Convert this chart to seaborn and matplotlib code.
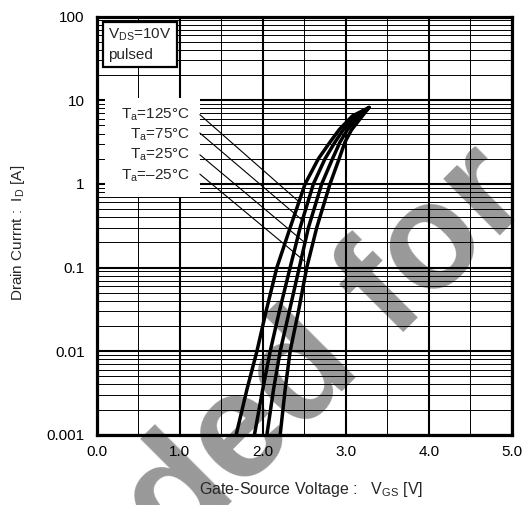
import numpy as np
import pandas as pd
import matplotlib
matplotlib.use("Agg")
import matplotlib.pyplot as plt
import seaborn as sns
from matplotlib.patches import Rectangle
from matplotlib.ticker import FixedLocator, MultipleLocator, LogLocator, NullFormatter

# drain current levels [A] and the gate voltage read for each curve at that level
id_levels = [0.001, 0.0035, 0.01, 0.03, 0.1, 0.3, 1.0, 2.0, 3.16, 4.45, 6.5, 8.2]
vgs_125 = [1.68, 1.81, 1.93, 2.04, 2.17, 2.33, 2.51, 2.67, 2.81, 2.92, 3.08, 3.28]
vgs_75 = [1.90, 2.00, 2.09, 2.20, 2.33, 2.45, 2.61, 2.75, 2.87, 2.97, 3.12, 3.28]
vgs_25 = [2.05, 2.13, 2.21, 2.32, 2.44, 2.55, 2.71, 2.84, 2.93, 3.02, 3.16, 3.28]
vgs_m25 = [2.21, 2.27, 2.33, 2.43, 2.53, 2.65, 2.81, 2.92, 2.99, 3.07, 3.20, 3.28]

temp_labels = ["T$_{\\rm a}$=125°C", "T$_{\\rm a}$=75°C", "T$_{\\rm a}$=25°C", "T$_{\\rm a}$=–25°C"]
label_y = [6.73, 3.88, 2.23, 1.25]
leader_start_y = [6.73, 4.06, 2.23, 1.31]
leader_end_x = [2.43, 2.47, 2.49, 2.51]
leader_end_y = [0.62, 0.373, 0.205, 0.118]

x_ticks = [0, 1, 2, 3, 4, 5]
x_tick_labels = ["0.0", "1.0", "2.0", "3.0", "4.0", "5.0"]
y_ticks = [0.001, 0.01, 0.1, 1, 10, 100]
y_tick_labels = ["0.001", "0.01", "0.1", "1", "10", "100"]

sns.set_style("white")
plt.rcParams["font.family"] = ["Liberation Sans", "DejaVu Sans"]
plt.rcParams["mathtext.fontset"] = "custom"
plt.rcParams["mathtext.rm"] = "Liberation Sans"
plt.rcParams["mathtext.it"] = "Liberation Sans:italic"
plt.rcParams["mathtext.bf"] = "Liberation Sans:bold"

df = pd.concat([
    pd.DataFrame({"vgs": v, "id": id_levels, "temp": t})
    for v, t in zip([vgs_125, vgs_75, vgs_25, vgs_m25], ["125", "75", "25", "-25"])
])

fig = plt.figure(figsize=(5.31, 5.05), dpi=100)
fig.patch.set_facecolor("white")
ax = fig.add_axes([0.182, 0.139, 0.782, 0.828])
ax.set_facecolor("none")

# grey watermark behind everything
wm = dict(rotation=45, rotation_mode="anchor", va="baseline", fontsize=108,
          fontweight="bold", color="#999999", zorder=-5)
fig.text(0.6845, 0.2683, "Not Recommended", ha="right", **wm)
fig.text(0.740, 0.327, "for", ha="left", **wm)

ax.set_yscale("log")
sns.lineplot(data=df, x="vgs", y="id", hue="temp", palette=["black"] * 4,
             legend=False, estimator=None, sort=False, linewidth=2.5, ax=ax, zorder=3)

ax.set_xlim(0, 5)
ax.set_ylim(0.001, 100)
ax.xaxis.set_major_locator(FixedLocator(x_ticks))
ax.xaxis.set_minor_locator(MultipleLocator(0.5))
ax.set_xticklabels(x_tick_labels)
ax.yaxis.set_major_locator(FixedLocator(y_ticks))
ax.yaxis.set_minor_locator(LogLocator(base=10, subs=np.arange(2, 10)))
ax.yaxis.set_minor_formatter(NullFormatter())
ax.set_yticklabels(y_tick_labels)
ax.grid(which="major", color="black", linewidth=1.5)
ax.grid(which="minor", color="black", linewidth=0.7)
ax.tick_params(which="both", length=0, labelsize=11, colors="black")
ax.tick_params(axis="x", pad=7)
ax.tick_params(axis="y", pad=8.5)
for s in ax.spines.values():
    s.set_linewidth(2.3)
    s.set_color("black")
    s.set_zorder(6)

# white label panel and temperature labels with leader lines
ax.add_patch(Rectangle((0.02, 0.569), 0.229, 0.236, transform=ax.transAxes,
                       facecolor="white", edgecolor="none", zorder=2.2))
for lab, ly, sy, ex, ey in zip(temp_labels, label_y, leader_start_y, leader_end_x, leader_end_y):
    ax.text(1.123, ly, lab, ha="right", va="center", fontsize=11, zorder=4)
    ax.plot([1.243, ex], [sy, ey], color="black", linewidth=0.8, zorder=2.5)

ax.add_patch(Rectangle((0.016, 0.880), 0.177, 0.108, transform=ax.transAxes,
                       facecolor="white", edgecolor="black", linewidth=1.6, zorder=4))
ax.text(0.027, 0.956, "V$_{\\rm DS}$=10V", transform=ax.transAxes, va="center", fontsize=11, zorder=5)
ax.text(0.027, 0.908, "pulsed", transform=ax.transAxes, va="center", fontsize=11, zorder=5)

ax.set_xlabel("Gate-Source Voltage :   V$_{\\rm GS}$ [V]", fontsize=11.5)
ax.set_ylabel("Drain Currnt :  I$_{\\rm D}$ [A]", fontsize=11)
ax.xaxis.label.set_va("center")
ax.yaxis.label.set_va("center")
ax.xaxis.set_label_coords(0.516, -0.131)
ax.yaxis.set_label_coords(-0.189, 0.483)

fig.savefig("out.png", dpi=100)
